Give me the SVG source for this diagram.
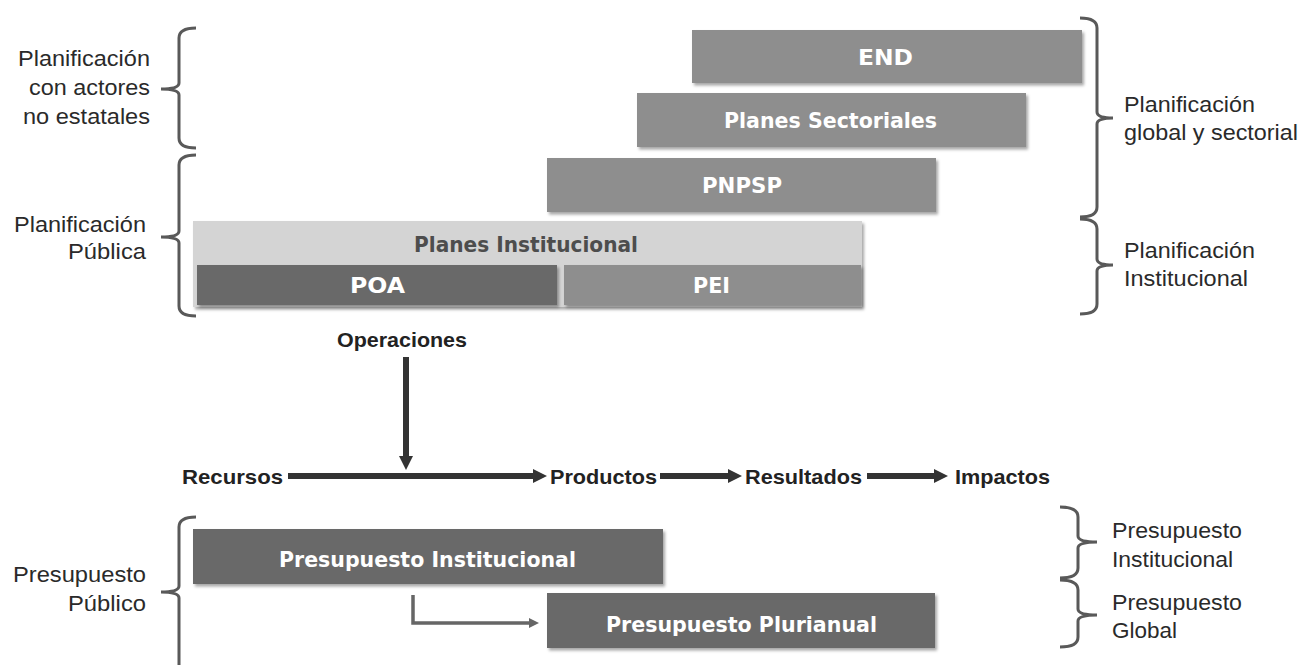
<svg xmlns="http://www.w3.org/2000/svg" width="1304" height="665" viewBox="0 0 1304 665">
<defs>
<filter id="sh" x="-5%" y="-20%" width="110%" height="150%">
<feDropShadow dx="2" dy="2.5" stdDeviation="1.5" flood-color="#000" flood-opacity="0.35"/>
</filter>
<marker id="ah" viewBox="0 0 10 10" refX="0" refY="5" markerUnits="userSpaceOnUse" markerWidth="14" markerHeight="14" orient="auto">
<path d="M0,0 L10,5 L0,10 z" fill="#333"/>
</marker>
<marker id="ahs" viewBox="0 0 10 10" refX="0" refY="5" markerUnits="userSpaceOnUse" markerWidth="10" markerHeight="10" orient="auto">
<path d="M0,0 L10,5 L0,10 z" fill="#666"/>
</marker>
</defs>
<style>
.lbl{font-family:"Liberation Sans",Arial,sans-serif;font-size:22.5px;fill:#2a2a2a}
.flw{font-family:"Liberation Sans",Arial,sans-serif;font-size:20.5px;font-weight:bold;fill:#222}
.bx{font-family:"DejaVu Sans","Liberation Sans",sans-serif;font-size:22px;font-weight:bold;fill:#fff}
.bxd{font-family:"DejaVu Sans","Liberation Sans",sans-serif;font-size:22px;font-weight:bold;fill:#4d4d4d}
.mid{fill:#8e8e8e}
.dark{fill:#696969}
.light{fill:#d4d4d4}
.brace{fill:none;stroke:#595959;stroke-width:3}
.arr{fill:none;stroke:#333;stroke-width:6}
.arrs{fill:none;stroke:#666;stroke-width:3.5}
</style>
<rect width="1304" height="665" fill="#fff"/>

<g id="braces">
<path class="brace" d="M196 28 Q179 28 179 38 V83 Q179 89 161 89 Q179 89 179 95 V138 Q179 148 196 148"/>
<path class="brace" d="M196 155 Q179 155 179 165 V231 Q179 237 161 237 Q179 237 179 243 V306 Q179 316 196 316"/>
<path class="brace" d="M196 517 Q179 517 179 527 V586 Q179 592 161 592 Q179 592 179 598 V670"/>
<path class="brace" d="M1080 18 Q1097 18 1097 28 V112 Q1097 118 1113 118 Q1097 118 1097 124 V207 Q1097 217 1080 217"/>
<path class="brace" d="M1080 219 Q1097 219 1097 229 V259 Q1097 265 1113 265 Q1097 265 1097 271 V304 Q1097 314 1080 314"/>
<path class="brace" d="M1060 507 Q1078 507 1078 517 V536 Q1078 542 1097 542 Q1078 542 1078 548 V568 Q1078 578 1060 578"/>
<path class="brace" d="M1060 580 Q1078 580 1078 590 V609 Q1078 615 1097 615 Q1078 615 1078 621 V637 Q1078 647 1060 647"/>
</g>

<g id="labels">
<text class="lbl" x="18" y="66" textLength="132" lengthAdjust="spacingAndGlyphs">Planificación</text>
<text class="lbl" x="29" y="95" textLength="121" lengthAdjust="spacingAndGlyphs">con actores</text>
<text class="lbl" x="23" y="124" textLength="127" lengthAdjust="spacingAndGlyphs">no estatales</text>
<text class="lbl" x="14" y="232" textLength="132" lengthAdjust="spacingAndGlyphs">Planificación</text>
<text class="lbl" x="68" y="259" textLength="78" lengthAdjust="spacingAndGlyphs">Pública</text>
<text class="lbl" x="13" y="582" textLength="133" lengthAdjust="spacingAndGlyphs">Presupuesto</text>
<text class="lbl" x="68" y="611" textLength="78" lengthAdjust="spacingAndGlyphs">Público</text>
<text class="lbl" x="1124" y="112" textLength="131" lengthAdjust="spacingAndGlyphs">Planificación</text>
<text class="lbl" x="1124" y="140" textLength="174" lengthAdjust="spacingAndGlyphs">global y sectorial</text>
<text class="lbl" x="1124" y="258" textLength="131" lengthAdjust="spacingAndGlyphs">Planificación</text>
<text class="lbl" x="1124" y="286" textLength="124" lengthAdjust="spacingAndGlyphs">Institucional</text>
<text class="lbl" x="1112" y="538" textLength="130" lengthAdjust="spacingAndGlyphs">Presupuesto</text>
<text class="lbl" x="1112" y="567" textLength="121" lengthAdjust="spacingAndGlyphs">Institucional</text>
<text class="lbl" x="1112" y="610" textLength="130" lengthAdjust="spacingAndGlyphs">Presupuesto</text>
<text class="lbl" x="1112" y="638" textLength="65" lengthAdjust="spacingAndGlyphs">Global</text>
</g>

<g id="END">
<rect class="mid" x="692" y="30" width="390" height="53" filter="url(#sh)"/>
<text class="bx" x="858" y="65" textLength="55" lengthAdjust="spacingAndGlyphs">END</text>
</g>
<g id="planes-sectoriales">
<rect class="mid" x="637" y="93" width="389" height="54" filter="url(#sh)"/>
<text class="bx" x="724" y="128" textLength="213" lengthAdjust="spacingAndGlyphs">Planes Sectoriales</text>
</g>
<g id="PNPSP">
<rect class="mid" x="547" y="158" width="389" height="54" filter="url(#sh)"/>
<text class="bx" x="702" y="193" textLength="80" lengthAdjust="spacingAndGlyphs">PNPSP</text>
</g>
<g id="planes-institucional">
<rect class="light" x="193" y="221" width="669" height="86" filter="url(#sh)"/>
<text class="bxd" x="414" y="252" textLength="224" lengthAdjust="spacingAndGlyphs">Planes Institucional</text>
</g>
<g id="POA">
<rect class="dark" x="197" y="265" width="360" height="40" filter="url(#sh)"/>
<text class="bx" x="350" y="293" textLength="55" lengthAdjust="spacingAndGlyphs">POA</text>
</g>
<g id="PEI">
<rect class="mid" x="564" y="265" width="297" height="40" filter="url(#sh)"/>
<text class="bx" x="693" y="293" textLength="37" lengthAdjust="spacingAndGlyphs">PEI</text>
</g>
<g id="presupuesto-institucional">
<rect class="dark" x="193" y="529" width="470" height="55" filter="url(#sh)"/>
<text class="bx" x="279" y="567" textLength="297" lengthAdjust="spacingAndGlyphs">Presupuesto Institucional</text>
</g>
<g id="presupuesto-plurianual">
<rect class="dark" x="547" y="593" width="388" height="55" filter="url(#sh)"/>
<text class="bx" x="606" y="632" textLength="271" lengthAdjust="spacingAndGlyphs">Presupuesto Plurianual</text>
</g>

<g id="flow-nodes">
<text class="flw" x="337" y="347" textLength="130" lengthAdjust="spacingAndGlyphs">Operaciones</text>
<text class="flw" x="182" y="484" textLength="101" lengthAdjust="spacingAndGlyphs">Recursos</text>
<text class="flw" x="550" y="484" textLength="107" lengthAdjust="spacingAndGlyphs">Productos</text>
<text class="flw" x="745" y="484" textLength="117" lengthAdjust="spacingAndGlyphs">Resultados</text>
<text class="flw" x="955" y="484" textLength="95" lengthAdjust="spacingAndGlyphs">Impactos</text>
</g>

<g id="connectors">
<path class="arr" d="M406 357 V456" stroke-width="5" marker-end="url(#ah)"/>
<path class="arr" d="M288 476 H533" marker-end="url(#ah)"/>
<path class="arr" d="M660 476 H728" marker-end="url(#ah)"/>
<path class="arr" d="M867 476 H934" marker-end="url(#ah)"/>
<path class="arrs" d="M413 595 V623 H529" marker-end="url(#ahs)"/>
</g>
</svg>
